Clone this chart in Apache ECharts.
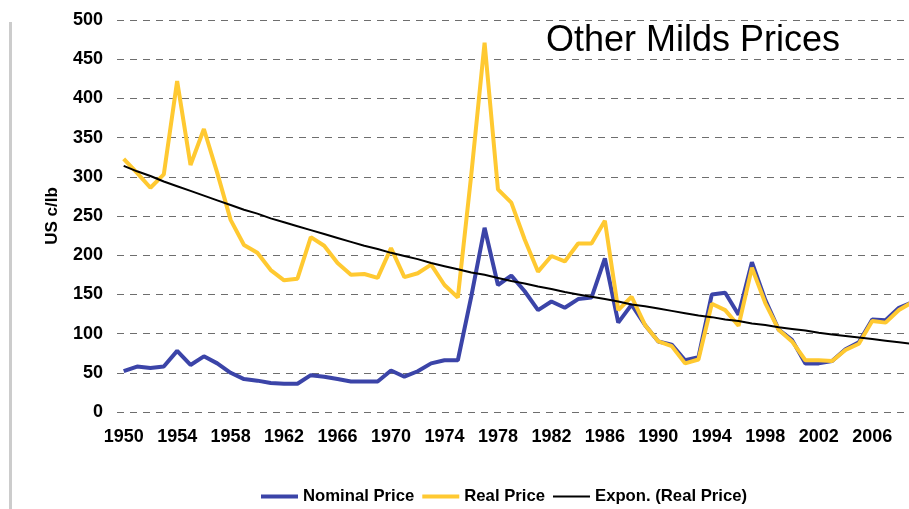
<!DOCTYPE html>
<html>
<head>
<meta charset="utf-8">
<title>Other Milds Prices</title>
<script src="https://cdn.jsdelivr.net/npm/echarts@6/dist/echarts.min.js"></script>
<style>
  html, body {
    margin: 0;
    padding: 0;
    background: #fff;
  }
  #chart {
    width: 909px;
    height: 509px;
  }
</style>
</head>
<body>
<div id="chart"></div>
<script>
// years 1950 - 2009
var years = [];
for (var y = 1950; y <= 2009; y++) years.push(String(y));

// US c/lb
var nominalPrice = [
  52, 58, 56, 58, 78, 60, 71, 62, 50, 42,
  40, 37, 36, 36, 47, 45, 42, 39, 39, 39,
  53, 45, 52, 62, 66, 66, 147, 235, 162, 174,
  154, 130, 141, 133, 144, 146, 196, 114, 137, 111,
  90, 86, 66, 70, 150, 152, 124, 191, 143, 105,
  92, 62, 62, 65, 80, 89, 118, 117, 133, 140
];
var realPrice = [
  323, 305, 286, 303, 422, 315, 361, 305, 245, 213,
  203, 181, 168, 170, 223, 212, 190, 175, 176, 171,
  209, 172, 177, 188, 162, 146, 302, 471, 284, 267,
  220, 179, 199, 192, 215, 215, 244, 130, 147, 111,
  90, 84, 62, 67, 138, 130, 110, 184, 139, 105,
  90, 66, 66, 65, 79, 87, 116, 114, 130, 140
];
// trend line as drawn (Expon. (Real Price))
var exponTrend = [
  314, 307, 301, 294, 288, 282, 276, 270, 264, 258,
  253, 247, 242, 237, 232, 227, 222, 217, 212, 208,
  203, 199, 195, 190, 186, 182, 178, 175, 171, 167,
  164, 160, 157, 153, 150, 147, 144, 141, 137, 135,
  132, 129, 126, 123, 121, 118, 116, 113, 111, 108,
  106, 104, 101, 99, 97, 95, 93, 91, 89, 87
];
var yTicks = { min: 0, max: 500, step: 50 };

var font = "'Liberation Sans', Arial, sans-serif";

var myChart = echarts.init(document.getElementById("chart"));
myChart.setOption({
  animation: false,
  backgroundColor: "#fff",
  title: {
    text: "Other Milds Prices",
    left: 541,
    top: 18,
    textStyle: {
      fontFamily: font,
      fontSize: 36,
      fontWeight: "normal",
      color: "#000",
    },
  },
  // grey bar on the left edge
  graphic: [
    {
      type: "rect",
      left: 9,
      top: 22,
      shape: { width: 3, height: 487 },
      style: { fill: "#cccccc" },
    },
  ],
  legend: {
    left: 256,
    top: 483,
    itemWidth: 37,
    itemHeight: 14,
    itemGap: 8,
    textStyle: {
      fontFamily: font,
      fontSize: 16.7,
      fontWeight: "bold",
      color: "#000",
    },
    // plain bars as legend keys, no markers
    data: [
      { name: "Nominal Price", icon: "path://M0,0H37V4H0Z" },
      { name: "Real Price", icon: "path://M0,0H37V4H0Z" },
      { name: "Expon. (Real Price)", icon: "path://M0,0H37V2H0Z" },
    ],
  },
  grid: {
    left: 117,
    width: 802,
    top: 20,
    bottom: 97,
    outerBoundsMode: "none",
  },
  xAxis: {
    type: "category",
    data: years,
    boundaryGap: true,
    axisLine: { show: false },
    axisTick: { show: false },
    splitLine: { show: false },
    axisLabel: {
      interval: 3,
      margin: 16,
      color: "#000",
      fontFamily: font,
      fontSize: 18,
      fontWeight: "bold",
    },
  },
  yAxis: {
    type: "value",
    min: yTicks.min,
    max: yTicks.max,
    interval: yTicks.step,
    name: "US c/lb",
    nameLocation: "middle",
    nameGap: 56,
    nameTextStyle: {
      fontFamily: font,
      fontSize: 17,
      fontWeight: "bold",
      color: "#000",
    },
    axisLine: { show: false },
    axisTick: { show: false },
    axisLabel: {
      margin: 14,
      color: "#000",
      fontFamily: font,
      fontSize: 18,
      fontWeight: "bold",
    },
    splitLine: {
      show: true,
      lineStyle: {
        color: "#6e6e6e",
        width: 1,
        type: [7, 6],
      },
    },
  },
  series: [
    {
      name: "Nominal Price",
      type: "line",
      symbol: "none",
      symbolKeepAspect: true,
      data: nominalPrice,
      color: "#3b44a8",
      lineStyle: { width: 4, color: "#3b44a8" },
    },
    {
      name: "Real Price",
      type: "line",
      symbol: "none",
      symbolKeepAspect: true,
      data: realPrice,
      color: "#ffc931",
      lineStyle: { width: 4, color: "#ffc931" },
    },
    {
      name: "Expon. (Real Price)",
      type: "line",
      symbol: "none",
      symbolKeepAspect: true,
      data: exponTrend,
      color: "#000",
      lineStyle: { width: 2, color: "#000" },
    },
  ],
});
</script>
</body>
</html>
